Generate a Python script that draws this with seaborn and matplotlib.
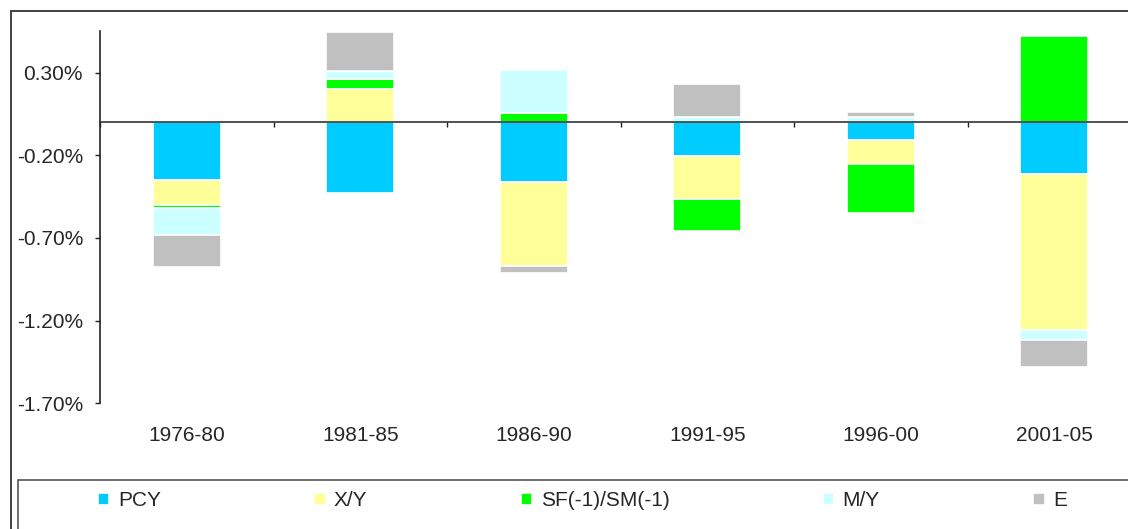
import numpy as np
import matplotlib.pyplot as plt
import seaborn as sns
from matplotlib.patches import Rectangle
from matplotlib.ticker import FixedLocator, FuncFormatter

# -------------------------------
# DATA (percentage points)
# -------------------------------
periods = ["1976-80", "1981-85", "1986-90", "1991-95", "1996-00", "2001-05"]

pcy = [-0.35, -0.43, -0.362, -0.206, -0.11, -0.315]
xy = [-0.15, 0.20, -0.508, -0.256, -0.145, -0.943]
sf = [-0.016, 0.06, 0.056, -0.197, -0.296, 0.522]
my = [-0.163, 0.05, 0.26, 0.032, 0.034, -0.06]
e = [-0.198, 0.234, -0.043, 0.20, 0.03, -0.163]

series_names = ["PCY", "X/Y", "SF(-1)/SM(-1)", "M/Y", "E"]
series_colors = ["#00CCFF", "#FFFF99", "#00FF00", "#CCFFFF", "#C0C0C0"]
y_ticks = [-1.70, -1.20, -0.70, -0.20, 0.30]

# -------------------------------
# STYLE
# -------------------------------
sns.set_style("white")
plt.rcParams["font.family"] = ["Liberation Sans", "DejaVu Sans"]
plt.rcParams["font.size"] = 15

W, H = 1128, 529
fig = plt.figure(figsize=(W / 100, H / 100), dpi=100)

# plot area in pixels: left 100, right 1141 (runs off the picture), top 31, bottom 403
ax = fig.add_axes([100 / W, 1 - 403.3 / H, 1041 / W, 372.3 / H])

# -------------------------------
# STACKED BARS (positives up, negatives down)
# -------------------------------
pos_base = np.zeros(len(periods))
neg_base = np.zeros(len(periods))
for name, vals, color in zip(series_names, [pcy, xy, sf, my, e], series_colors):
    vals = np.array(vals)
    bottom = np.where(vals >= 0, pos_base, neg_base)
    sns.barplot(x=periods, y=vals, bottom=bottom, color=color, saturation=1,
                width=0.39, edgecolor="white", linewidth=1.2, errorbar=None,
                label=name, ax=ax)
    pos_base += np.clip(vals, 0, None)
    neg_base += np.clip(vals, None, 0)

ax.set_xlim(-0.5, len(periods) - 0.5)
ax.set_ylim(-1.70, 0.552)
ax.set_xlabel("")
ax.set_ylabel("")

# axes look
for side in ["top", "right"]:
    ax.spines[side].set_visible(False)
ax.spines["left"].set_color("#222222")
ax.spines["left"].set_linewidth(1.2)
ax.spines["bottom"].set_position(("data", 0))
ax.spines["bottom"].set_color("#333333")
ax.spines["bottom"].set_linewidth(1.2)

ax.yaxis.set_major_locator(FixedLocator(y_ticks))
ax.yaxis.set_major_formatter(FuncFormatter(lambda v, p: f"{v:.2f}%"))
ax.tick_params(axis="y", direction="out", length=3.6, width=1, pad=8.6,
               color="#222222", labelsize=15, left=True)

ax.set_xticks(range(len(periods)))
ax.set_xticklabels(periods)
ax.set_xticks(np.arange(-0.5, len(periods)), minor=True)
ax.tick_params(axis="x", which="major", length=0, pad=219, labelsize=15)
ax.tick_params(axis="x", which="minor", direction="out", length=3.6,
               width=1, color="#222222", bottom=True)

# -------------------------------
# LEGEND + FRAMES
# -------------------------------
handles, labels = ax.get_legend_handles_labels()
ax.legend(handles, labels, loc="center left",
          bbox_to_anchor=(98 / W, 1 - 511 / H, (1067 - 98) / W, 20 / H),
          bbox_transform=fig.transFigure, ncol=5, mode="expand",
          frameon=False, fontsize=15, handlelength=0.55, handleheight=0.55,
          handletextpad=0.4, borderaxespad=0, borderpad=0)

fig.add_artist(Rectangle((11 / W, -0.05), 1.1, 1.05 - 11 / H,
                         transform=fig.transFigure, fill=False,
                         edgecolor="#333333", linewidth=1.3, clip_on=False))
fig.add_artist(Rectangle((18 / W, -0.05), 1.1, 0.05 + 1 - 480 / H,
                         transform=fig.transFigure, fill=False,
                         edgecolor="#555555", linewidth=1.2, clip_on=False))

plt.savefig("out.png", dpi=100)
